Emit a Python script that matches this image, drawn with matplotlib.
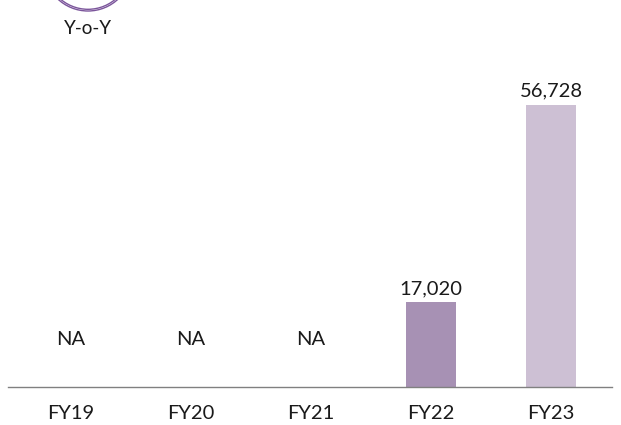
import matplotlib
matplotlib.use("Agg")
import matplotlib.pyplot as plt
from matplotlib.patches import Circle

categories = ["FY19", "FY20", "FY21", "FY22", "FY23"]
values = [None, None, None, 17020, 56728]
bar_colors = ["#a791b4", "#a791b4", "#a791b4", "#a791b4", "#cdc0d4"]

plt.rcParams['font.family'] = ['Lato', 'DejaVu Sans']

W, H = 621, 425
fig = plt.figure(figsize=(W / 100, H / 100), dpi=100)

left_px, right_px = 8, 612
bottom_px, top_px = 387, 60
ax = fig.add_axes([left_px / W, (H - bottom_px) / H, (right_px - left_px) / W, (bottom_px - top_px) / H])

xs = list(range(len(categories)))
ymax = 56728 * (bottom_px - top_px) / 282
for x, v, c in zip(xs, values, bar_colors):
    if v is None:
        ax.text(x, ymax * 0.145, "NA", ha="center", va="center", fontsize=14.5, color="#1a1a1a")
    else:
        ax.bar(x, v, width=0.42, color=c)
        ax.text(x, v + ymax * 0.016, f"{v:,}", ha="center", va="bottom", fontsize=14.5, color="#1a1a1a")

ax.set_xlim(-0.525, 4.508)
ax.set_ylim(0, ymax)
ax.set_xticks(xs)
ax.set_xticklabels(categories, fontsize=14.5, color="#1a1a1a")
ax.tick_params(axis="x", length=0, pad=13)
ax.set_yticks([])
for s in ["top", "right", "left"]:
    ax.spines[s].set_visible(False)
ax.spines["bottom"].set_color("#808080")
ax.spines["bottom"].set_linewidth(1.0)

ov = fig.add_axes([0, 0, 1, 1])
ov.set_xlim(0, W)
ov.set_ylim(H, 0)
ov.axis("off")
ov.add_patch(Circle((88, -33), 44, fill=False, edgecolor="#7b559b", linewidth=1.0))
ov.add_patch(Circle((88, -33), 42.3, fill=False, edgecolor="#7b559b", linewidth=1.0))
ov.text(88, 28, "Y-o-Y", ha="center", va="center", fontsize=13.5, color="#1a1a1a")

fig.savefig("out.png", dpi=100)
